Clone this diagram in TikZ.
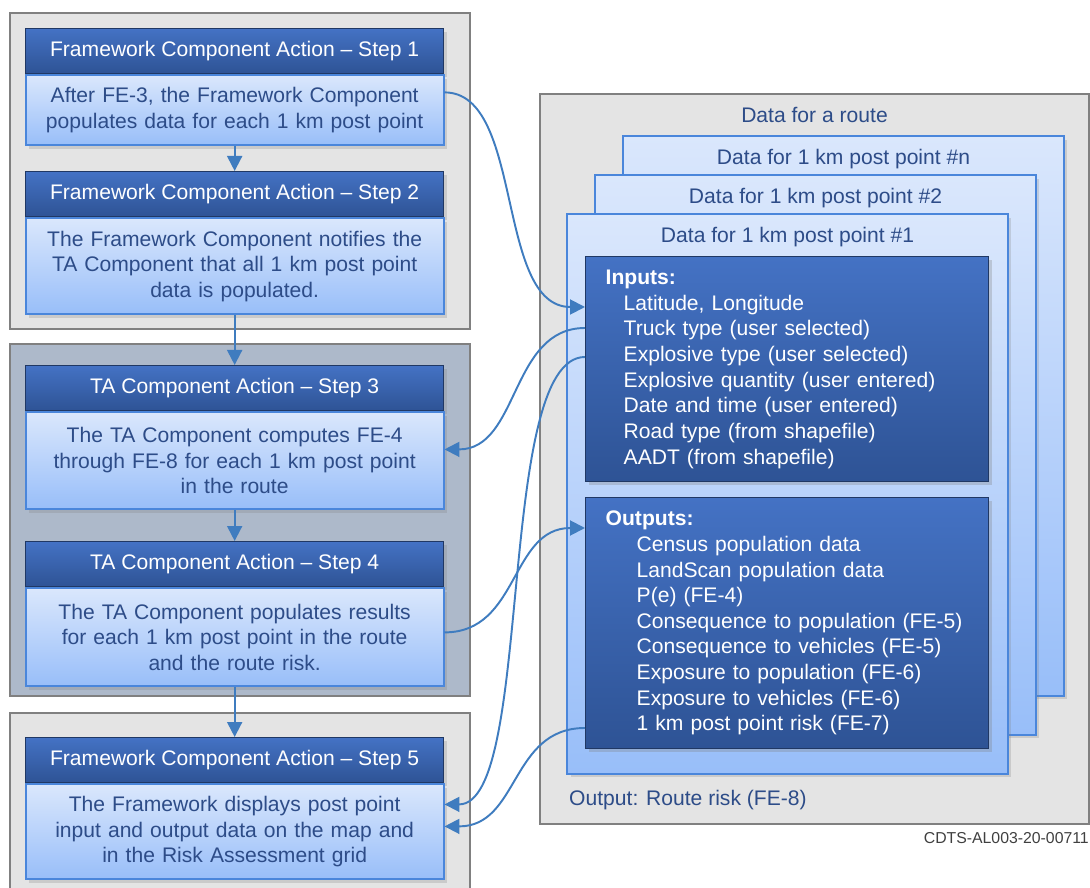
\documentclass[tikz,border=0pt]{standalone}
\usepackage{fontspec}
\setmainfont{Liberation Sans}
\usetikzlibrary{arrows.meta, positioning, calc, shadows}
\definecolor{headtop}{HTML}{4472C4}
\definecolor{headbot}{HTML}{2E5395}
\definecolor{headline}{HTML}{203864}
\definecolor{bodytop}{HTML}{DAE7FC}
\definecolor{bodybot}{HTML}{98BEF9}
\definecolor{bodyline}{HTML}{4A86DB}
\definecolor{textblue}{HTML}{2D4C88}
\definecolor{groupgray}{HTML}{E4E4E4}
\definecolor{groupblue}{HTML}{ADB9CA}
\definecolor{groupline}{HTML}{808080}
\definecolor{linkcolor}{HTML}{3F7CBF}

\begin{document}
\begin{tikzpicture}[x=0.02cm, y=-0.02cm,
  every node/.style={font=\fontsize{12pt}{14.6pt}\selectfont},
  groupbox/.style={draw=groupline, line width=1.2pt, anchor=north west,
    minimum width=9.2cm, inner sep=0pt},
  stephead/.style={draw=headline, line width=0.8pt, top color=headtop,
    bottom color=headbot, text=white, minimum width=8.36cm,
    minimum height=0.9cm, inner sep=0pt,
    drop shadow={opacity=0.25, shadow xshift=2pt, shadow yshift=-2pt}},
  stepbody/.style={draw=bodyline, line width=1pt, top color=bodytop,
    bottom color=bodybot, text=textblue, minimum width=8.36cm,
    text width=8cm, align=center, inner sep=0pt,
    drop shadow={opacity=0.25, shadow xshift=2pt, shadow yshift=-2pt}},
  card/.style={draw=bodyline, line width=1.2pt, top color=bodytop,
    bottom color=bodybot, anchor=north west, minimum width=8.82cm,
    minimum height=11.2cm, inner sep=0pt,
    drop shadow={opacity=0.25, shadow xshift=2pt, shadow yshift=-2pt}},
  databox/.style={draw=headline, line width=0.8pt, top color=headtop,
    bottom color=headbot, text=white, anchor=north west, text width=7.26cm,
    inner xsep=0.4cm, inner ysep=0pt, align=left,
    drop shadow={opacity=0.3, shadow xshift=2pt, shadow yshift=-2pt}},
  flow/.style={draw=linkcolor, line width=1.1pt,
    -{Triangle[length=0.3cm, width=0.3cm]}}]

\useasboundingbox (0,0) rectangle (1090,888);
\clip (0,0) rectangle (1090,888);

% left column: three groups of steps
\node[groupbox, fill=groupgray, minimum height=6.32cm] (g1) at (9,12) {};
\node[groupbox, fill=groupblue, minimum height=7.04cm] (g2) at (9,343) {};
\node[groupbox, fill=groupgray, minimum height=3.9cm] (g3) at (9,712) {};

\foreach \i/\top/\bh/\head/\body in {
  1/28/1.40cm/{Framework Component Action – Step 1}/{After FE-3, the Framework Component\\populates data for each 1 km post point},
  2/171/1.92cm/{Framework Component Action – Step 2}/{The Framework Component notifies the\\TA Component that all 1 km post point\\data is populated.},
  3/365/1.94cm/{TA Component Action – Step 3}/{The TA Component computes FE-4\\through FE-8 for each 1 km post point\\in the route},
  4/541/1.96cm/{TA Component Action – Step 4}/{The TA Component populates results\\for each 1 km post point in the route\\and the route risk.},
  5/737/1.90cm/{Framework Component Action – Step 5}/{The Framework displays post point\\input and output data on the map and\\in the Risk Assessment grid}}
{
  \node[stephead, anchor=north west] (h\i) at (25,\top) {\head};
  \node[stepbody, anchor=north, minimum height=\bh] (b\i) at (h\i.south) {\body};
}

\foreach \a/\b in {1/2, 2/3, 3/4, 4/5}
  \draw[flow] (b\a.south) -- (h\b.north);

% right column: data for a route
\node[draw=groupline, line width=1.2pt, fill=groupgray, anchor=north west,
  minimum width=10.98cm, minimum height=14.6cm, inner sep=0pt] (route) at (539,93) {};
\node[text=textblue] (rtitle) at ($(route.north)+(0,22)$) {Data for a route};

\foreach \j/\cx/\cy in {n/622/135, 2/594/174, 1/566/213}
{
  \node[card] (c\j) at (\cx,\cy) {};
  \node[text=textblue] (t\j) at ($(c\j.north)+(0,24)$) {Data for 1 km post point \#\j};
}

\node[databox, minimum height=4.5cm] (inp) at (585,256) {\textbf{Inputs:}\\
  \hspace*{0.36cm}Latitude, Longitude\\
  \hspace*{0.36cm}Truck type (user selected)\\
  \hspace*{0.36cm}Explosive type (user selected)\\
  \hspace*{0.36cm}Explosive quantity (user entered)\\
  \hspace*{0.36cm}Date and time (user entered)\\
  \hspace*{0.36cm}Road type (from shapefile)\\
  \hspace*{0.36cm}AADT (from shapefile)};

\node[databox, minimum height=5.02cm] (outp) at (585,497) {\textbf{Outputs:}\\
  \hspace*{0.62cm}Census population data\\
  \hspace*{0.62cm}LandScan population data\\
  \hspace*{0.62cm}P(e) (FE-4)\\
  \hspace*{0.62cm}Consequence to population (FE-5)\\
  \hspace*{0.62cm}Consequence to vehicles (FE-5)\\
  \hspace*{0.62cm}Exposure to population (FE-6)\\
  \hspace*{0.62cm}Exposure to vehicles (FE-6)\\
  \hspace*{0.62cm}1 km post point risk (FE-7)};

\node[text=textblue, anchor=west] (rrisk) at (563,800) {Output: Route risk (FE-8)};
\node[anchor=east, text=black!75, font=\fontsize{9pt}{11pt}\selectfont] (tag) at (1095,838) {CDTS-AL003-20-00711};

% data flow between steps and post point data
\draw[flow] ($(b1.north east)+(0,18)$) .. controls +(80,0) and +(-90,0) .. ($(inp.north west)+(0,51)$);
\draw[flow] ($(inp.north west)+(0,72)$) .. controls +(-75,0) and +(75,0) .. ($(b3.north east)+(0,38)$);
\draw[flow] ($(inp.north west)+(0,101)$) .. controls +(-90,0) and +(90,0) .. ($(b5.north east)+(0,21)$);
\draw[flow] ($(b4.north east)+(0,45)$) .. controls +(75,0) and +(-75,0) .. ($(outp.north west)+(0,31)$);
\draw[flow] ($(outp.north west)+(0,231)$) .. controls +(-75,0) and +(75,0) .. ($(b5.north east)+(0,43)$);
\end{tikzpicture}
\end{document}
